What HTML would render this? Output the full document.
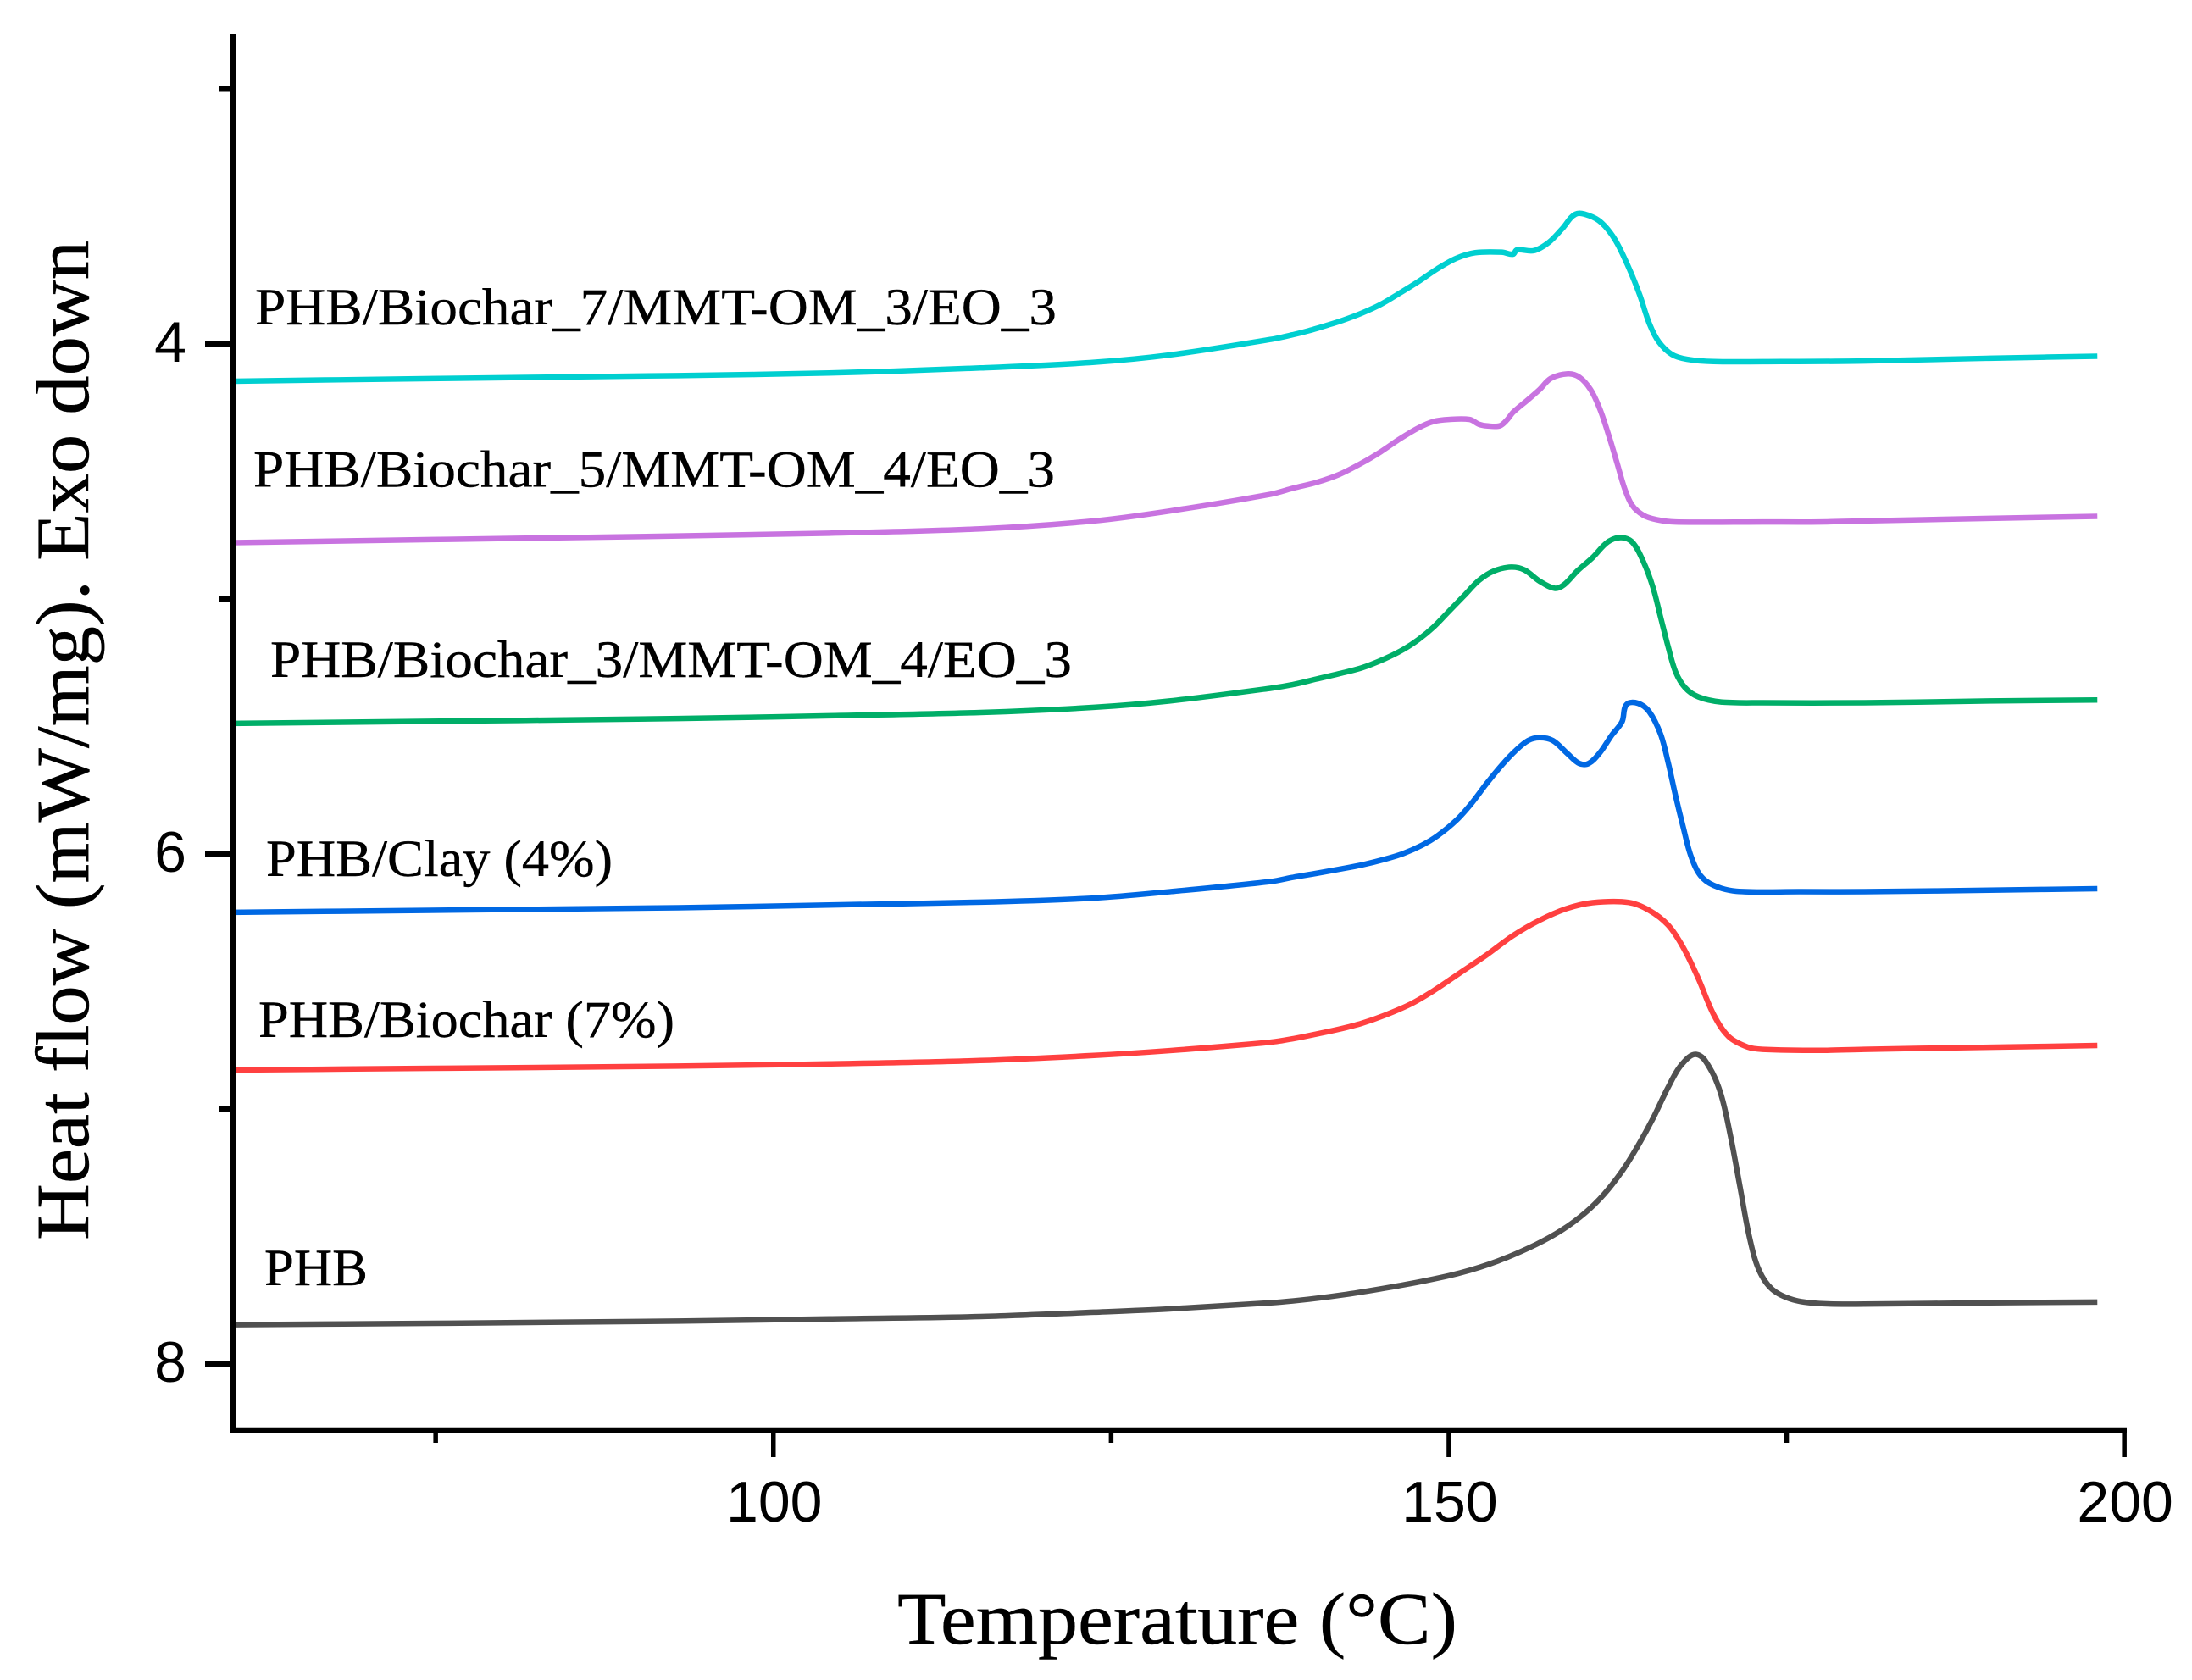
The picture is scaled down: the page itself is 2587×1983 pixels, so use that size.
<!DOCTYPE html>
<html lang="en">
<head>
<meta charset="utf-8">
<title>Heat flow vs temperature</title>
<style>
  html, body { margin: 0; padding: 0; background: #ffffff; }
  svg { display: block; }
  .serif { font-family: "Liberation Serif", serif; fill: #000; stroke: #000; stroke-width: 0.4; }
  .sans { font-family: "Liberation Sans", sans-serif; fill: #000; }
</style>
</head>
<body>
<svg id="chart" xmlns="http://www.w3.org/2000/svg" width="2587" height="1983" viewBox="0 0 2587 1983">
  <rect x="0" y="0" width="2587" height="1983" fill="#ffffff"/>
  <g id="curves" fill="none" stroke-linejoin="round" stroke-linecap="butt"></g>
  <g id="axes"></g>
  <text class="serif" x="301" y="383" font-size="61" textLength="946" lengthAdjust="spacingAndGlyphs">PHB/Biochar_7/MMT-OM_3/EO_3</text>
  <text class="serif" x="299" y="574.5" font-size="61" textLength="946" lengthAdjust="spacingAndGlyphs">PHB/Biochar_5/MMT-OM_4/EO_3</text>
  <text class="serif" x="319" y="799" font-size="61" textLength="946" lengthAdjust="spacingAndGlyphs">PHB/Biochar_3/MMT-OM_4/EO_3</text>
  <text class="serif" x="314" y="1034" font-size="61" textLength="409" lengthAdjust="spacingAndGlyphs">PHB/Clay (4%)</text>
  <text class="serif" x="305" y="1224" font-size="61" textLength="491" lengthAdjust="spacingAndGlyphs">PHB/Biochar (7%)</text>
  <text class="serif" x="312" y="1517" font-size="61" textLength="122" lengthAdjust="spacingAndGlyphs">PHB</text>
  <text class="serif" x="1059" y="1940" font-size="87" textLength="661" lengthAdjust="spacingAndGlyphs">Temperature (°C)</text>
  <text class="serif" transform="translate(104 1464) rotate(-90)" x="0" y="0" font-size="89" textLength="1180" lengthAdjust="spacingAndGlyphs">Heat flow (mW/mg). Exo down</text>
</svg>
<script>
const xMajorTicks = [100, 150, 200];
const xMinorTicks = [75, 125, 175];
const yMajorTicks = [4, 6, 8];
const yMinorTicks = [3, 5, 7];

const curveBiochar7 = [[60,4.146],[76,4.135],[92.93,4.124],[104.13,4.114],[115.33,4.094],[123.73,4.072],[129.33,4.043],[136.83,3.982],[138.51,3.963],[139.63,3.948],[141.03,3.926],[142.15,3.907],[143.55,3.879],[144.95,3.845],[146.35,3.801],[147.75,3.755],[149.15,3.705],[150.55,3.664],[151.95,3.642],[153.91,3.640],[154.75,3.648],[155.03,3.631],[156.29,3.634],[157.41,3.601],[158.39,3.548],[159.37,3.491],[160.35,3.496],[161.33,3.526],[162.31,3.592],[163.29,3.698],[164.13,3.808],[164.83,3.919],[165.53,3.991],[166.51,4.041],[167.63,4.060],[169.59,4.069],[174.63,4.069],[180.7,4.067],[190,4.056],[198,4.048]];

const curveBiochar5 = [[60,4.779],[76,4.766],[92.93,4.753],[104.13,4.742],[115.33,4.725],[123.73,4.694],[129.33,4.655],[136.83,4.589],[138.51,4.565],[140.19,4.543],[141.87,4.512],[143.55,4.467],[144.95,4.423],[146.35,4.373],[147.75,4.329],[148.87,4.304],[150,4.296],[151.53,4.296],[152.23,4.315],[152.79,4.321],[153.77,4.321],[154.33,4.296],[154.75,4.268],[155.87,4.218],[156.71,4.179],[157.55,4.135],[158.81,4.117],[159.65,4.130],[160.49,4.179],[161.19,4.257],[161.89,4.368],[162.45,4.467],[163.01,4.567],[163.57,4.633],[164.41,4.672],[165.39,4.689],[166.79,4.698],[173.23,4.698],[177.43,4.698],[180.74,4.694],[190,4.684],[198,4.676]];

const curveBiochar3 = [[60,5.488],[76,5.479],[92.93,5.469],[104.13,5.458],[115.33,5.445],[123.73,5.425],[129.33,5.400],[136.83,5.350],[138.51,5.335],[140.19,5.314],[141.87,5.293],[143.55,5.270],[145.23,5.235],[146.63,5.198],[147.75,5.159],[148.87,5.110],[149.99,5.049],[151.11,4.988],[152.23,4.927],[153.35,4.890],[154.61,4.875],[155.59,4.886],[156.71,4.930],[157.83,4.958],[158.53,4.944],[159.51,4.890],[160.63,4.838],[161.75,4.777],[162.73,4.759],[163.57,4.777],[164.41,4.855],[165.11,4.955],[165.67,5.071],[166.23,5.187],[166.79,5.287],[167.49,5.348],[168.47,5.384],[170.15,5.404],[173.23,5.407],[180.74,5.407],[190,5.400],[198,5.396]];

const curveClay = [[60,6.229],[76,6.22],[92.93,6.211],[104.13,6.200],[115.33,6.189],[123.73,6.173],[129.33,6.148],[136.83,6.108],[138.51,6.091],[140.19,6.076],[141.87,6.060],[143.55,6.043],[145.23,6.021],[146.63,5.998],[148.03,5.965],[149.15,5.929],[150.55,5.868],[151.67,5.802],[152.79,5.724],[153.91,5.652],[154.89,5.597],[155.87,5.555],[156.71,5.544],[157.69,5.555],[158.81,5.608],[159.65,5.645],[160.35,5.645],[161.19,5.602],[162.03,5.536],[162.82,5.481],[163.15,5.414],[164,5.409],[164.83,5.442],[165.67,5.530],[166.23,5.641],[166.79,5.774],[167.35,5.896],[167.91,6.007],[168.61,6.084],[169.59,6.123],[171.27,6.146],[176.04,6.148],[180.74,6.148],[190,6.142],[198,6.136]];

const curveBiochar = [[60,6.847],[76,6.84],[92.93,6.832],[104.13,6.823],[115.33,6.810],[123.73,6.790],[129.33,6.771],[136.83,6.738],[138.51,6.724],[140.19,6.706],[141.87,6.687],[143.55,6.664],[145.23,6.633],[147.19,6.588],[148.87,6.536],[150.83,6.466],[152.79,6.396],[154.75,6.320],[156.71,6.260],[158.67,6.215],[160.63,6.191],[163.29,6.190],[164.83,6.221],[166.23,6.279],[167.35,6.367],[168.47,6.489],[169.59,6.629],[170.71,6.716],[172.11,6.757],[173.23,6.766],[177.43,6.770],[180.74,6.766],[190,6.758],[198,6.751]];

const curvePhb = [[60,7.846],[76,7.84],[92.93,7.832],[104.13,7.823],[115.33,7.814],[123.73,7.797],[129.33,7.784],[136.83,7.760],[139.63,7.746],[142.43,7.727],[145.23,7.703],[148.03,7.676],[150.83,7.643],[153.63,7.596],[156.43,7.532],[158.39,7.474],[160.07,7.408],[161.47,7.335],[162.87,7.240],[163.99,7.145],[165.11,7.037],[166.23,6.915],[167.21,6.827],[168.33,6.786],[169.31,6.839],[170.15,6.944],[170.85,7.107],[171.55,7.305],[172.25,7.503],[172.95,7.631],[173.93,7.707],[175.47,7.748],[177.43,7.763],[180.74,7.765],[190,7.76],[198,7.757]];

const SVGNS = 'http://www.w3.org/2000/svg';
const xAt = function (t) { return 275 + (t - 60) * 15.944; };
const yAt = function (v) { return 406 + (v - 4) * 301; };

function smoothPath(points) {
  const p = points.map(function (d) { return [xAt(d[0]), yAt(d[1])]; });
  const n = p.length;
  const dist = function (a, b) { return Math.hypot(b[0] - a[0], b[1] - a[1]) || 1; };
  const tangent = function (i) {
    const a = p[Math.max(i - 1, 0)], c = p[Math.min(i + 1, n - 1)];
    const span = dist(a, c);
    return [(c[0] - a[0]) / span, (c[1] - a[1]) / span];
  };
  let out = 'M' + p[0][0].toFixed(2) + ' ' + p[0][1].toFixed(2);
  for (let i = 0; i < n - 1; i++) {
    const b = p[i], c = p[i + 1];
    const len = dist(b, c) / 3;
    const tb = tangent(i), tc = tangent(i + 1);
    out += 'C' + (b[0] + tb[0] * len).toFixed(2) + ' ' + (b[1] + tb[1] * len).toFixed(2) + ' ' +
      (c[0] - tc[0] * len).toFixed(2) + ' ' + (c[1] - tc[1] * len).toFixed(2) + ' ' +
      c[0].toFixed(2) + ' ' + c[1].toFixed(2);
  }
  return out;
}

const curvesGroup = document.getElementById('curves');
const axesGroup = document.getElementById('axes');

function addCurve(points, colour, name) {
  const el = document.createElementNS(SVGNS, 'path');
  el.setAttribute('d', smoothPath(points));
  el.setAttribute('stroke', colour);
  el.setAttribute('stroke-width', '6.5');
  
  
  curvesGroup.appendChild(el);
}
addCurve(curveBiochar7, '#00cfd0', 'curve-biochar7-mmt3-eo3');
addCurve(curveBiochar5, '#c873e0', 'curve-biochar5-mmt4-eo3');
addCurve(curveBiochar3, '#00ae68', 'curve-biochar3-mmt4-eo3');
addCurve(curveClay, '#0068e3', 'curve-clay');
addCurve(curveBiochar, '#ff4040', 'curve-biochar');
addCurve(curvePhb, '#505050', 'curve-phb');

function addRule(x1, y1, x2, y2, width, name) {
  const el = document.createElementNS(SVGNS, 'line');
  el.setAttribute('x1', x1);
  el.setAttribute('y1', y1);
  el.setAttribute('x2', x2);
  el.setAttribute('y2', y2);
  el.setAttribute('stroke', '#000');
  el.setAttribute('stroke-width', width);
  
  
  axesGroup.appendChild(el);
}
function addTickLabel(x, y, text, anchor, name) {
  const el = document.createElementNS(SVGNS, 'text');
  el.setAttribute('x', x);
  el.setAttribute('y', y);
  el.setAttribute('text-anchor', anchor);
  el.setAttribute('font-size', '68');
  el.setAttribute('class', 'sans');
  
  
  el.textContent = text;
  axesGroup.appendChild(el);
}

addRule(275, 40, 275, 1691, 6.5, 'y-axis-line');
addRule(272, 1688, 2510, 1688, 6.5, 'x-axis-line');

xMajorTicks.forEach(function (t) {
  addRule(xAt(t), 1691, xAt(t), 1720, 5.5, 'x-major-tick');
  addTickLabel(xAt(t) + 1, 1796, String(t), 'middle', 'x-tick-label');
});
xMinorTicks.forEach(function (t) {
  addRule(xAt(t), 1691, xAt(t), 1703, 5.5, 'x-minor-tick');
});
yMajorTicks.forEach(function (v) {
  addRule(242, yAt(v), 272, yAt(v), 7, 'y-major-tick');
  addTickLabel(220, yAt(v) + 21, String(v), 'end', 'y-tick-label');
});
yMinorTicks.forEach(function (v) {
  addRule(259, yAt(v), 272, yAt(v), 7, 'y-minor-tick');
});
</script>
</body>
</html>
